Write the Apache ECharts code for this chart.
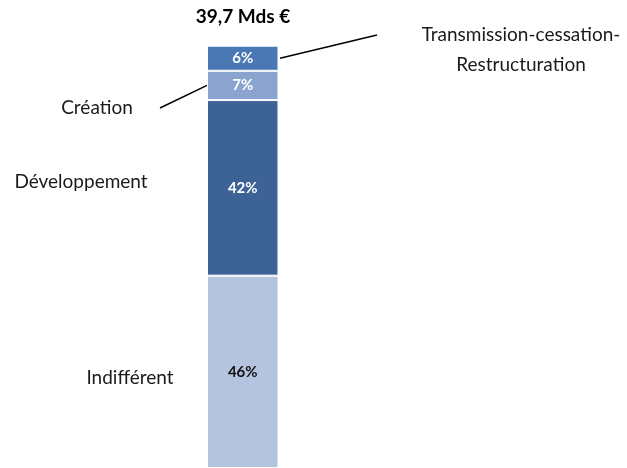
<!DOCTYPE html>
<html>
<head>
<meta charset="utf-8">
<script src="https://cdn.jsdelivr.net/npm/echarts@6/dist/echarts.min.js"></script>
<style>
  html, body { margin: 0; padding: 0; background: #fff; }
  #chart { width: 627px; height: 468px; }
</style>
</head>
<body>
<div id="chart"></div>
<script>
// Stacked share of the 39,7 Mds € total, bottom to top
const segments = ['Indifférent', 'Développement', 'Création', 'Transmission-cessation-Restructuration'];
const shares = [46, 42, 7, 6];
const colors = ['#b5c4de', '#3d6396', '#8aa4cf', '#4a78b5'];
const labelColors = ['#111', '#fff', '#fff', '#fff'];
const totalLabel = '39,7 Mds €';
const category = ['Total'];

const FONT = 'Lato, "Open Sans", sans-serif';
const total = shares.reduce((a, b) => a + b, 0);

const chart = echarts.init(document.getElementById('chart'), null, { renderer: 'canvas' });

const series = segments.map((name, i) => ({
  name,
  type: 'bar',
  stack: 'total',
  barWidth: '100%',
  data: [shares[i]],
  itemStyle: { color: colors[i], borderColor: '#fff', borderWidth: 1 },
  label: {
    show: true,
    position: 'inside',
    formatter: '{c}%',
    color: labelColors[i],
    fontFamily: FONT,
    fontWeight: 'bold',
    fontSize: 15
  }
}));

chart.setOption({
  animation: false,
  backgroundColor: '#fff',
  grid: { left: 207, right: 348.5, top: 45.7, bottom: -2.7 },
  xAxis: { type: 'category', data: category, show: false },
  yAxis: { type: 'value', min: 0, max: total, show: false },
  series
});

// Segment centre (pixel y) from the stacked values
function segmentMidY(i) {
  const below = shares.slice(0, i).reduce((a, b) => a + b, 0);
  return chart.convertToPixel({ gridIndex: 0 }, [0, below + shares[i] / 2])[1];
}
const barLeft = 207, barRight = 278.5;
const txt = (text, x, y, extra) => ({
  type: 'text', x, y,
  style: Object.assign({ text, fill: '#1a1a1a', font: '19px ' + FONT, align: 'center', verticalAlign: 'middle' }, extra || {})
});

const yCre = segmentMidY(2);
const yTra = segmentMidY(3);

chart.setOption({
  graphic: [
    txt(totalLabel, 243, 17, { font: 'bold 19px ' + FONT, fill: '#000' }),
    txt('Transmission-cessation-', 521, 35),
    txt('Restructuration', 521, 65),
    txt('Création', 97, 108),
    txt('Développement', 81, 182),
    txt('Indifférent', 130, 378),
    { type: 'line', shape: { x1: 160, y1: 108, x2: barLeft, y2: yCre }, style: { stroke: '#000', lineWidth: 1.5 } },
    { type: 'line', shape: { x1: barRight + 1.5, y1: yTra, x2: 377, y2: 35 }, style: { stroke: '#000', lineWidth: 1.5 } }
  ]
});
</script>
</body>
</html>
